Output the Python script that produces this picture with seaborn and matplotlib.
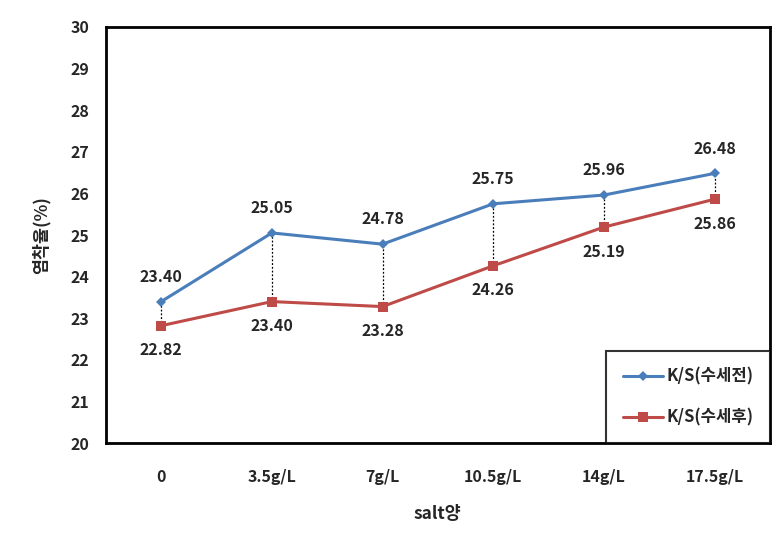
import matplotlib
matplotlib.use("Agg")
import matplotlib.pyplot as plt
import seaborn as sns
import pandas as pd

categories = ["0", "3.5g/L", "7g/L", "10.5g/L", "14g/L", "17.5g/L"]
before = [23.40, 25.05, 24.78, 25.75, 25.96, 26.48]
after = [22.82, 23.40, 23.28, 24.26, 25.19, 25.86]
series_names = ["K/S(수세전)", "K/S(수세후)"]
yticks = list(range(20, 31))

sns.set_style("white")
plt.rcParams['font.family'] = ['Noto Sans CJK KR', 'DejaVu Sans']
plt.rcParams['font.weight'] = 'bold'

df = pd.DataFrame({
    "salt": categories * 2,
    "value": before + after,
    "series": [series_names[0]] * len(categories) + [series_names[1]] * len(categories),
})

fig = plt.figure(figsize=(7.84, 5.39), dpi=100)
ax = fig.add_axes([0.135, 0.178, 0.847, 0.772])

blue = "#4A7EBB"
red = "#BE4B48"
sns.lineplot(data=df, x="salt", y="value", hue="series", style="series",
             palette=[blue, red], markers=["D", "s"], dashes=False,
             markersize=7, linewidth=2.2, ax=ax, sort=False)
for line in ax.lines:
    if line.get_marker() == "D":
        line.set_markersize(5)
        line.set_markeredgewidth(0)
    elif line.get_marker() == "s":
        line.set_markersize(7.5)
        line.set_markeredgewidth(0)

xs = list(range(len(categories)))
ax.vlines(xs, after, before, colors="black", linestyles=(0, (1.5, 1.5)), linewidth=0.9, zorder=1)

for i, (b, a) in enumerate(zip(before, after)):
    ax.annotate(f"{b:.2f}", (i, b), xytext=(0, 12), textcoords="offset points",
                ha="center", va="bottom", fontsize=11.5, fontweight="bold")
    ax.annotate(f"{a:.2f}", (i, a), xytext=(0, -12), textcoords="offset points",
                ha="center", va="top", fontsize=11.5, fontweight="bold")

ax.set_xlim(-0.5, len(categories) - 0.5)
ax.set_ylim(20, 30)
ax.set_yticks(yticks)
ax.set_yticklabels([str(t) for t in yticks], fontsize=11.5, fontweight="bold")
ax.set_xticks(xs)
ax.set_xticklabels(categories, fontsize=11.5, fontweight="bold")
ax.tick_params(axis="y", length=0, pad=12)
ax.tick_params(axis="x", length=0, pad=19)
ax.set_xlabel("salt양", fontsize=12.5, fontweight="bold", labelpad=14)
ax.set_ylabel("염착율(%)", fontsize=12.5, fontweight="bold", labelpad=14)

for s in ax.spines.values():
    s.set_color("black")
    s.set_linewidth(2)

leg = ax.legend(loc="lower right", bbox_to_anchor=(1.0, 0.0), borderaxespad=0,
                frameon=True, fancybox=False, labelspacing=1.35, handlelength=2.4,
                handletextpad=0.2, borderpad=1.0, prop={"weight": "bold", "size": 12})
leg.get_frame().set_edgecolor("black")
leg.get_frame().set_linewidth(1.5)

fig.savefig("out.png", dpi=100)
